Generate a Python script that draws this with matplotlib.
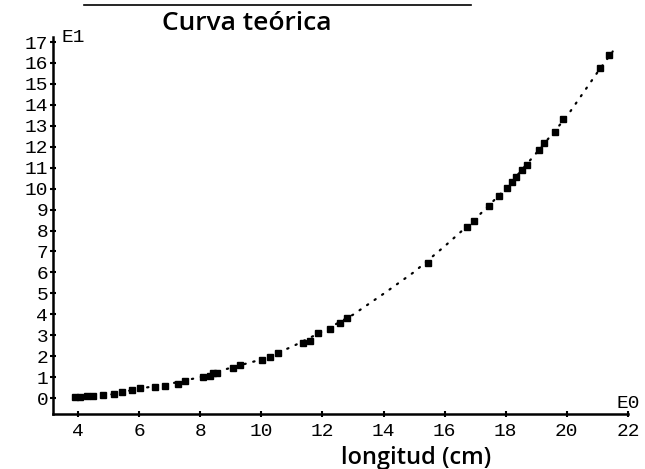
import matplotlib
matplotlib.use("Agg")
import matplotlib.pyplot as plt
from matplotlib.lines import Line2D

# measured points (longitud in cm, E1 units)
x_data = [3.90, 4.07, 4.30, 4.50, 4.83, 5.16, 5.43, 5.76, 6.03, 6.52, 6.85,
          7.28, 7.50, 8.10, 8.32, 8.43, 8.54, 9.08, 9.30, 10.01, 10.28, 10.55,
          11.35, 11.59, 11.86, 12.25, 12.57, 12.79, 15.44, 16.74, 16.97,
          17.46, 17.79, 18.03, 18.21, 18.33, 18.52, 18.68, 19.10, 19.26,
          19.61, 19.86, 21.09, 21.38]
y_data = [0.06, 0.06, 0.08, 0.10, 0.14, 0.19, 0.27, 0.38, 0.46, 0.54, 0.57,
          0.65, 0.81, 1.02, 1.05, 1.18, 1.18, 1.42, 1.58, 1.81, 1.97, 2.13,
          2.61, 2.74, 3.09, 3.28, 3.60, 3.81, 6.46, 8.18, 8.47,
          9.17, 9.66, 10.01, 10.30, 10.57, 10.89, 11.13, 11.84, 12.16,
          12.70, 13.32, 15.77, 16.39]

# theoretical curve
x_curve = [3.9, 5.0, 6.0, 7.0, 8.0, 9.0, 10.0, 11.0, 12.0, 13.0, 14.0,
           15.0, 16.0, 17.0, 18.0, 19.0, 20.0, 21.0, 21.5]
y_curve = [0.06, 0.15, 0.45, 0.68, 1.00, 1.45, 1.84, 2.45, 3.18, 3.98, 4.98,
           6.02, 7.25, 8.55, 10.00, 11.70, 13.45, 15.55, 16.55]

x_ticks = [4, 6, 8, 10, 12, 14, 16, 18, 20, 22]
y_ticks = list(range(0, 18))

fig = plt.figure(figsize=(6.45, 4.69), dpi=100)
ax = fig.add_axes([0.0822, 0.1173, 0.8914, 0.8038])

ax.plot(x_curve, y_curve, linestyle=(0, (0.6, 3.5)), color="black",
        linewidth=1.6, dash_capstyle="round")
ax.plot(x_data, y_data, linestyle="none", marker="s", markersize=4.3,
        color="black")

ax.set_xlim(3.18, 22.0)
ax.set_ylim(-0.76, 17.24)
ax.set_xticks(x_ticks)
ax.set_yticks(y_ticks)

mono = "Liberation Mono"
ax.set_xticklabels([str(v) for v in x_ticks], fontfamily=mono, fontsize=14)
ax.set_yticklabels([str(v) for v in y_ticks], fontfamily=mono, fontsize=14)
ax.tick_params(direction="inout", length=5, width=1.5)
ax.tick_params(axis="y", pad=1)
ax.tick_params(axis="x", pad=4)

for side in ["top", "right"]:
    ax.spines[side].set_visible(False)
for side in ["left", "bottom"]:
    ax.spines[side].set_linewidth(1.8)

ax.text(0.015, 1.0, "E1", transform=ax.transAxes, fontfamily=mono,
        fontsize=14, ha="left", va="center")
ax.text(1.021, 0.004, "E0", transform=ax.transAxes, fontfamily=mono,
        fontsize=14, ha="right", va="bottom")

fig.text(0.383, 0.950, "Curva teórica", fontsize=19, fontweight="semibold",
         ha="center", va="center", family="Open Sans")
ax.set_xlabel("longitud (cm)", fontsize=17, fontweight="semibold",
              labelpad=0, family="Open Sans")
ax.xaxis.set_label_coords(0.631, -0.085)

# scanned border line along the top
fig.add_artist(Line2D([0.13, 0.73], [0.99, 0.99], color="black",
                      linewidth=1.2, transform=fig.transFigure))

fig.savefig("out.png", dpi=100)
